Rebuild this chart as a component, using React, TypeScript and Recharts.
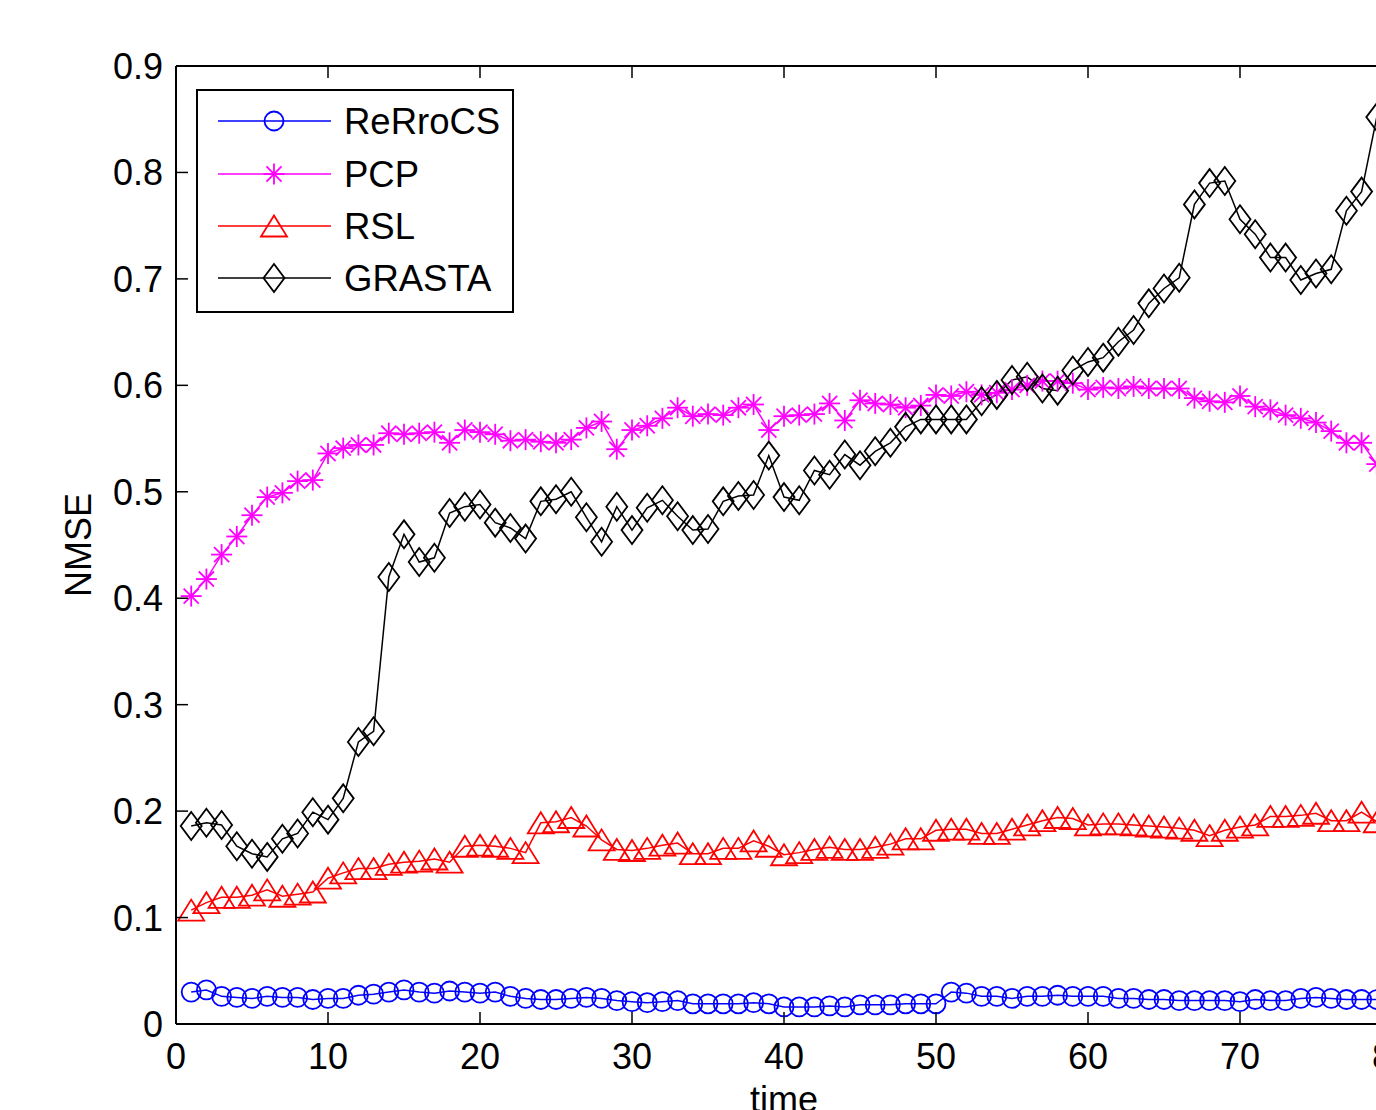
import { Legend, Line, LineChart, XAxis, YAxis } from "recharts";

const times = Array.from({ length: 80 }, (_, i) => i + 1);

const rerrocs = [
  0.030, 0.032, 0.026, 0.025, 0.024, 0.026, 0.025, 0.025, 0.023, 0.024,
  0.024, 0.027, 0.028, 0.030, 0.032, 0.030, 0.029, 0.031, 0.030, 0.029,
  0.030, 0.026, 0.024, 0.023, 0.023, 0.024, 0.025, 0.024, 0.022, 0.021,
  0.020, 0.021, 0.022, 0.019, 0.019, 0.019, 0.019, 0.020, 0.019, 0.016,
  0.016, 0.016, 0.017, 0.016, 0.018, 0.018, 0.018, 0.019, 0.019, 0.019,
  0.030, 0.029, 0.026, 0.026, 0.024, 0.026, 0.026, 0.027, 0.026, 0.026,
  0.026, 0.024, 0.024, 0.023, 0.023, 0.022, 0.022, 0.022, 0.022, 0.021,
  0.023, 0.022, 0.022, 0.024, 0.025, 0.024, 0.023, 0.023, 0.023, 0.023,
];

const pcp = [
  0.402, 0.418, 0.441, 0.458, 0.478, 0.495, 0.499, 0.510, 0.511, 0.536,
  0.541, 0.544, 0.544, 0.555, 0.554, 0.555, 0.556, 0.546, 0.558, 0.556,
  0.554, 0.548, 0.549, 0.547, 0.546, 0.549, 0.560, 0.566, 0.540, 0.558,
  0.562, 0.569, 0.579, 0.571, 0.573, 0.572, 0.579, 0.582, 0.558, 0.571,
  0.572, 0.573, 0.583, 0.567, 0.586, 0.583, 0.582, 0.579, 0.581, 0.591,
  0.590, 0.594, 0.591, 0.593, 0.596, 0.600, 0.604, 0.604, 0.602, 0.596,
  0.598, 0.597, 0.599, 0.597, 0.597, 0.597, 0.588, 0.585, 0.584, 0.590,
  0.580, 0.577, 0.572, 0.569, 0.565, 0.557, 0.546, 0.546, 0.526, 0.510,
];

const rsl = [
  0.107, 0.114, 0.119, 0.119, 0.121, 0.126, 0.120, 0.122, 0.124, 0.137,
  0.142, 0.146, 0.146, 0.150, 0.152, 0.153, 0.155, 0.152, 0.167, 0.168,
  0.167, 0.165, 0.161, 0.189, 0.190, 0.194, 0.186, 0.173, 0.164, 0.163,
  0.165, 0.168, 0.170, 0.160, 0.160, 0.165, 0.165, 0.172, 0.167, 0.159,
  0.161, 0.164, 0.166, 0.164, 0.164, 0.166, 0.169, 0.174, 0.174, 0.182,
  0.183, 0.183, 0.179, 0.179, 0.183, 0.187, 0.191, 0.194, 0.193, 0.187,
  0.188, 0.188, 0.187, 0.186, 0.185, 0.184, 0.182, 0.177, 0.182, 0.185,
  0.187, 0.195, 0.195, 0.196, 0.198, 0.191, 0.191, 0.199, 0.190, 0.190,
];

const grasta = [
  0.186, 0.189, 0.187, 0.167, 0.160, 0.157, 0.174, 0.179, 0.199, 0.192,
  0.212, 0.265, 0.275, 0.420, 0.460, 0.434, 0.438, 0.480, 0.486, 0.488,
  0.471, 0.466, 0.456, 0.491, 0.493, 0.500, 0.476, 0.453, 0.486, 0.464,
  0.485, 0.492, 0.477, 0.464, 0.465, 0.491, 0.496, 0.497, 0.534, 0.495,
  0.492, 0.520, 0.516, 0.535, 0.525, 0.538, 0.546, 0.561, 0.568, 0.568,
  0.568, 0.568, 0.585, 0.591, 0.605, 0.608, 0.597, 0.595, 0.614, 0.622,
  0.626, 0.641, 0.652, 0.677, 0.691, 0.701, 0.770, 0.790, 0.792, 0.756,
  0.742, 0.720, 0.720, 0.699, 0.705, 0.709, 0.764, 0.782, 0.852, 0.870,
];

const xTicks = [0, 10, 20, 30, 40, 50, 60, 70, 80];
const yTicks = [0, 0.1, 0.2, 0.3, 0.4, 0.5, 0.6, 0.7, 0.8, 0.9];

const data = times.map((t, i) => ({
  t,
  rerrocs: rerrocs[i],
  pcp: pcp[i],
  rsl: rsl[i],
  grasta: grasta[i],
}));

const FONT = '"Liberation Sans", Arial, Helvetica, sans-serif';

function CircleMark({ cx, cy, color }: { cx: number; cy: number; color: string }) {
  return <circle cx={cx} cy={cy} r={9.5} fill="none" stroke={color} strokeWidth={1.8} />;
}

function StarMark({ cx, cy, color }: { cx: number; cy: number; color: string }) {
  const r = 10.5;
  const d = r * 0.72;
  return (
    <g stroke={color} strokeWidth={1.8}>
      <line x1={cx - r} y1={cy} x2={cx + r} y2={cy} />
      <line x1={cx} y1={cy - r} x2={cx} y2={cy + r} />
      <line x1={cx - d} y1={cy - d} x2={cx + d} y2={cy + d} />
      <line x1={cx - d} y1={cy + d} x2={cx + d} y2={cy - d} />
    </g>
  );
}

function TriangleMark({ cx, cy, color }: { cx: number; cy: number; color: string }) {
  return (
    <polygon
      points={`${cx},${cy - 10.5} ${cx + 13},${cy + 10.5} ${cx - 13},${cy + 10.5}`}
      fill="none"
      stroke={color}
      strokeWidth={1.8}
    />
  );
}

function DiamondMark({ cx, cy, color }: { cx: number; cy: number; color: string }) {
  return (
    <polygon
      points={`${cx},${cy - 14} ${cx + 10.5},${cy} ${cx},${cy + 14} ${cx - 10.5},${cy}`}
      fill="none"
      stroke={color}
      strokeWidth={1.8}
    />
  );
}

const series = [
  { key: "rerrocs", name: "ReRroCS", color: "#0000ff", Mark: CircleMark },
  { key: "pcp", name: "PCP", color: "#ff00ff", Mark: StarMark },
  { key: "rsl", name: "RSL", color: "#ff0000", Mark: TriangleMark },
  { key: "grasta", name: "GRASTA", color: "#000000", Mark: DiamondMark },
];

function BottomTick(props: any) {
  const { x, y, payload } = props;
  return (
    <g>
      <line x1={x} y1={y} x2={x} y2={y - 12} stroke="#000" strokeWidth={1.5} />
      <text x={x} y={y + 45} textAnchor="middle" fontSize={36} fontFamily={FONT} fill="#000">
        {payload.value}
      </text>
    </g>
  );
}

// top axis: only inward tick marks, hung from the top border
function TopTick(props: any) {
  const { x } = props;
  return <line x1={x} y1={66} x2={x} y2={78} stroke="#000" strokeWidth={1.5} />;
}

function LeftTick(props: any) {
  const { x, y, payload } = props;
  const label = payload.value === 0 ? "0" : Number(payload.value).toFixed(1);
  return (
    <g>
      <line x1={x} y1={y} x2={x + 12} y2={y} stroke="#000" strokeWidth={1.5} />
      <text x={x - 13} y={y + 13} textAnchor="end" fontSize={36} fontFamily={FONT} fill="#000">
        {label}
      </text>
    </g>
  );
}

function LegendBox() {
  const rows = [32, 85, 137, 189];
  return (
    <svg width={318} height={224} style={{ display: "block" }}>
      <rect x={1} y={1} width={316} height={222} fill="#fff" stroke="#000" strokeWidth={2} />
      {series.map((s, i) => {
        const Mark = s.Mark;
        const y = rows[i];
        return (
          <g key={s.key}>
            <line x1={22} y1={y} x2={135} y2={y} stroke={s.color} strokeWidth={1.5} />
            <Mark cx={78} cy={y} color={s.color} />
            <text x={148} y={y + 13} fontSize={36.5} fontFamily={FONT} fill="#000">
              {s.name}
            </text>
          </g>
        );
      })}
    </svg>
  );
}

export default function App() {
  return (
    <div
      style={{
        position: "fixed",
        left: 0,
        top: 0,
        width: 1376,
        height: 1110,
        overflow: "hidden",
        background: "#fff",
        fontFamily: FONT,
      }}
    >
      <LineChart width={1420} height={1110} data={data} margin={{ top: 56, right: 28, bottom: 0, left: 0 }}>
        <XAxis
          dataKey="t"
          type="number"
          domain={[0, 80]}
          ticks={xTicks}
          interval={0}
          height={86}
          tickSize={0}
          tickMargin={0}
          tickLine={false}
          tick={<BottomTick />}
          axisLine={{ stroke: "#000", strokeWidth: 2 }}
          label={{
            content: (p: any) => {
              const vb = p.viewBox || { x: 176, y: 1024, width: 1216 };
              return (
                <text x={vb.x + vb.width / 2} y={vb.y + 88} textAnchor="middle" fontSize={36} fontFamily={FONT} fill="#000">
                  time
                </text>
              );
            },
          }}
        />
        <XAxis
          xAxisId="top"
          dataKey="t"
          type="number"
          orientation="top"
          domain={[0, 80]}
          ticks={xTicks}
          interval={0}
          height={10}
          tickSize={0}
          tickMargin={0}
          tickLine={false}
          tick={<TopTick />}
          axisLine={{ stroke: "#000", strokeWidth: 2 }}
        />
        <YAxis
          type="number"
          domain={[0, 0.9]}
          ticks={yTicks}
          interval={0}
          width={176}
          tickSize={0}
          tickMargin={0}
          tickLine={false}
          tick={<LeftTick />}
          axisLine={{ stroke: "#000", strokeWidth: 2 }}
          label={{
            content: (p: any) => {
              const vb = p.viewBox || { x: 0, y: 66, height: 958 };
              const cy = vb.y + vb.height / 2;
              return (
                <text
                  x={91}
                  y={cy}
                  transform={`rotate(-90 91 ${cy})`}
                  textAnchor="middle"
                  fontSize={36}
                  fontFamily={FONT}
                  fill="#000"
                >
                  NMSE
                </text>
              );
            },
          }}
        />
        <Legend
          layout="horizontal"
          verticalAlign="middle"
          align="center"
          wrapperStyle={{ position: "absolute", left: 196, top: 89, width: 318, height: 224 }}
          content={() => <LegendBox />}
        />
        {series.map((s) => {
          const Mark = s.Mark;
          return (
            <Line
              key={s.key}
              type="linear"
              dataKey={s.key}
              name={s.name}
              stroke={s.color}
              strokeWidth={1.5}
              isAnimationActive={false}
              activeDot={false}
              dot={(p: any) => <Mark key={`${s.key}-${p.index}`} cx={p.cx} cy={p.cy} color={s.color} />}
            />
          );
        })}
      </LineChart>
    </div>
  );
}
